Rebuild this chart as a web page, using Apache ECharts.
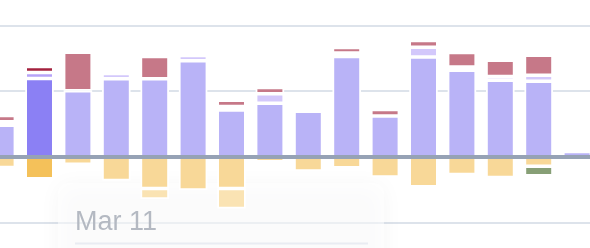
<!DOCTYPE html>
<html>
<head>
<meta charset="utf-8">
<script src="https://cdn.jsdelivr.net/npm/echarts@6/dist/echarts.min.js"></script>
<style>
html,body{margin:0;padding:0;background:#ffffff;overflow:hidden}
#c{width:590px;height:248px}
</style>
</head>
<body>
<div id="c"></div>
<script>
// ---- data ----
const categories = ['Mar 10','Mar 11','Mar 12','Mar 13','Mar 14','Mar 15','Mar 16','Mar 17','Mar 18','Mar 19','Mar 20','Mar 21','Mar 22','Mar 23','Mar 24','Mar 25'];
const seriesA = [4.81, 11.94, 10.08, 11.91, 11.9, 14.66, 7.14, 8.18, 6.94, 15.28, 6.22, 15.21, 13.19, 11.67, 11.51, 0.8];
const seriesB = [0.53, 0.91, null, 0.78, null, 0.78, 0.53, 1.42, null, 0.53, null, 1.48, 0.49, 0.58, 0.94, null];
const seriesC = [0.95, 0.91, 5.86, null, 3.38, null, 0.95, 0.96, null, 0.84, 0.98, 1.03, 2.21, 2.47, 3.03, null];
const seriesD = [-1.62, -3.35, -1.15, -3.6, -4.82, -5.06, -4.82, -0.75, -2.17, -1.67, -3.09, -4.57, -2.69, -3.15, -1.43, null];
const seriesE = [null, null, null, null, -1.62, null, -3.05, null, null, null, null, null, null, null, null, null];
const seriesF = [null, null, null, null, null, null, null, null, null, null, null, null, null, null, -1.46, null];
const yTicks = [-20, -10, 0, 10, 20, 30];
const highlightIndex = 1;
const tooltipTitle = 'Mar 11';

// ---- styles ----
const fadedColors = {A:'#b9b3f7', B:'#d3c8fb', C:'#c67888', D:'#f8d898', E:'#fae3b3', F:'#879f76'};
const fullColors  = {A:'#8b80f4', B:'#b6a3f8', C:'#a3213e', D:'#f4c15a', E:'#f7d080', F:'#37611c'};

function buildData(values, key) {
  return values.map(function (v, i) {
    if (v === null) return null;
    if (i === highlightIndex) return {value: v, itemStyle: {color: fullColors[key]}};
    return v;
  });
}
function barSeries(name, values, key) {
  return {
    name: name,
    type: 'bar',
    stack: 'total',
    barWidth: 28.5,
    silent: true,
    itemStyle: {color: fadedColors[key], borderColor: '#ffffff', borderWidth: 1.75},
    emphasis: {disabled: true},
    data: buildData(values, key)
  };
}

const chart = echarts.init(document.getElementById('c'), null, {renderer: 'canvas'});
chart.setOption({
  animation: false,
  backgroundColor: '#ffffff',
  grid: {left: -18.1, right: -6.3, top: -40, bottom: -40, outerBoundsMode: 'none', containLabel: false},
  xAxis: {
    type: 'category',
    data: categories,
    z: 10,
    axisLine: {show: true, onZero: true, lineStyle: {color: '#96a2b5', width: 4}},
    axisTick: {show: false},
    axisLabel: {show: false},
    splitLine: {show: false}
  },
  yAxis: {
    type: 'value',
    min: yTicks[0],
    max: yTicks[yTicks.length - 1],
    interval: yTicks[1] - yTicks[0],
    axisLine: {show: false},
    axisTick: {show: false},
    axisLabel: {show: false},
    splitLine: {show: true, lineStyle: {color: '#dde3eb', width: 2}}
  },
  series: [
    barSeries('A', seriesA, 'A'),
    barSeries('B', seriesB, 'B'),
    barSeries('C', seriesC, 'C'),
    barSeries('D', seriesD, 'D'),
    barSeries('E', seriesE, 'E'),
    barSeries('F', seriesF, 'F')
  ],
  graphic: [
    {
      type: 'group',
      z: 1,
      children: [
        {
          type: 'rect',
          z: 1,
          shape: {x: 58, y: 183, width: 326, height: 110, r: 9},
          style: {fill: 'rgba(255,255,255,0.55)', shadowBlur: 22, shadowColor: 'rgba(15,23,42,0.07)', shadowOffsetY: 2}
        },
        {
          type: 'text',
          z: 1,
          style: {x: 75, y: 223, text: tooltipTitle, font: '27px "Liberation Sans", Arial, sans-serif', fill: '#b4b9c2', textVerticalAlign: 'middle'}
        },
        {
          type: 'line',
          z: 1,
          shape: {x1: 75, y1: 243.5, x2: 368, y2: 243.5},
          style: {stroke: '#e9ecf2', lineWidth: 2}
        }
      ]
    }
  ]
});
</script>
</body>
</html>
